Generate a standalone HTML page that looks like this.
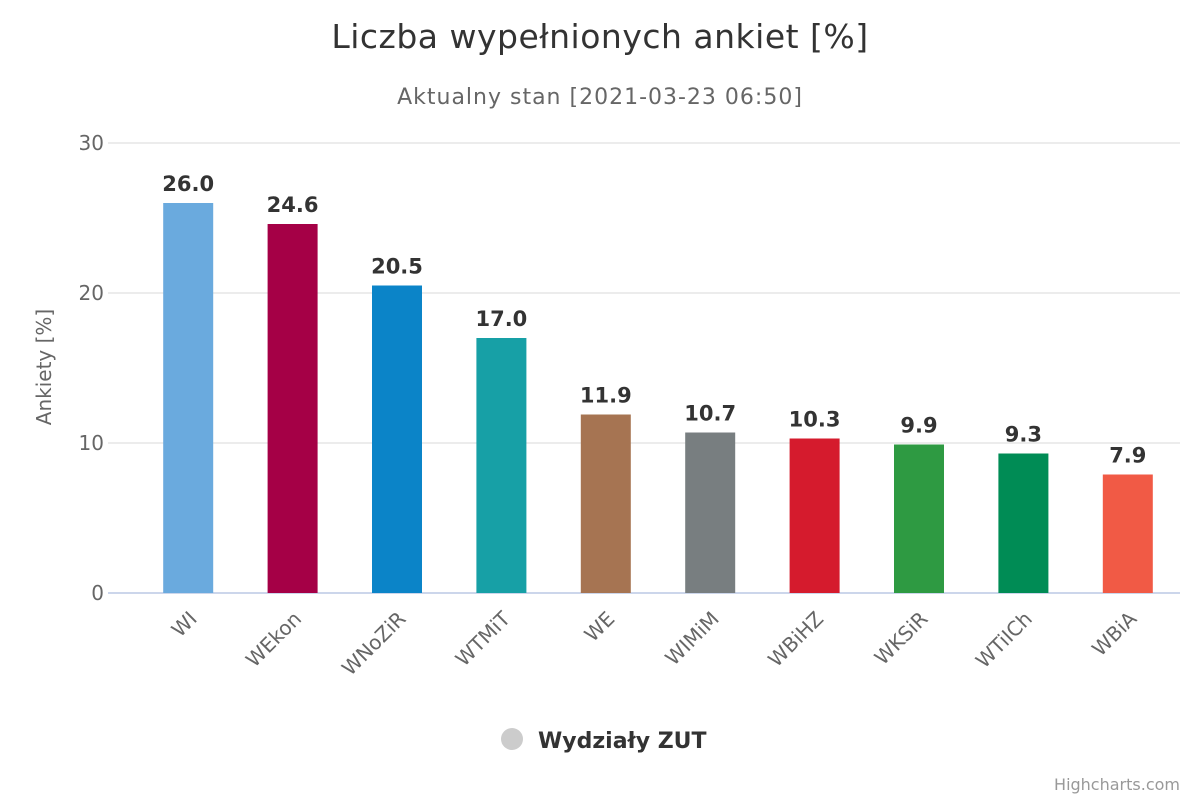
<!DOCTYPE html>
<html><head><meta charset="utf-8"><style>
body{margin:0;background:#fff;font-family:"DejaVu Sans","Liberation Sans",sans-serif}
</style></head><body>
<svg id="c" width="1200" height="800" xmlns="http://www.w3.org/2000/svg" style="font-family:'DejaVu Sans','Liberation Sans',sans-serif">
<rect width="1200" height="800" fill="#fff"/>
<text x="600" y="48" text-anchor="middle" font-size="33" letter-spacing="0.5" fill="#333">Liczba wypełnionych ankiet [%]</text>
<text x="600" y="104" text-anchor="middle" font-size="22" letter-spacing="1" fill="#666">Aktualny stan [2021-03-23 06:50]</text>
<text transform="translate(51,367) rotate(-90)" text-anchor="middle" font-size="20" fill="#666">Ankiety [%]</text>
<g id="grid"></g><g id="bars"></g>
<g>
<circle cx="512" cy="739" r="11" fill="#ccc"/>
<text x="538" y="748" font-size="22" font-weight="bold" fill="#333">Wydziały ZUT</text>
</g>
<text x="1180" y="790" text-anchor="end" font-size="16" fill="#999">Highcharts.com</text>
</svg>
<script>
const categories=["WI","WEkon","WNoZiR","WTMiT","WE","WIMiM","WBiHZ","WKSiR","WTiICh","WBiA"];
const values=[26.0,24.6,20.5,17.0,11.9,10.7,10.3,9.9,9.3,7.9];
const colors=["#6aaade","#a50046","#0b84c8","#17a0a6","#a67452","#787e80","#d51b2d","#2e9a42","#008c55","#f15a45"];
const yTicks=[0,10,20,30];
const NS="http://www.w3.org/2000/svg";
const L=136,R=1180,T=143,B=593,YMAX=30;
const y=v=>B-(v/YMAX)*(B-T);
const cw=(R-L)/categories.length;
const x=i=>L+cw*(i+0.5);
function mk(t,a,p){const e=document.createElementNS(NS,t);for(const k in a)e.setAttribute(k,a[k]);p.appendChild(e);return e;}
const g=document.getElementById('grid'),b=document.getElementById('bars');
yTicks.forEach(t=>{
 const l=mk('line',{x1:L-28,x2:R,y1:y(t),y2:y(t),stroke:t===0?'#ccd6eb':'#e6e6e6','stroke-width':t===0?2:1.5},g);
 
 
 const tx=mk('text',{x:104,y:y(t)+7,'text-anchor':'end','font-size':20,fill:'#666'},g);
 tx.textContent=t;
 
 
});
categories.forEach((c,i)=>{
 const r=mk('rect',{x:x(i)-25,y:y(values[i]),width:50,height:B-y(values[i]),fill:colors[i]},b);
 
 
 const v=mk('text',{x:x(i),y:y(values[i])-12,'text-anchor':'middle','font-size':21,'font-weight':'bold',fill:'#333'},b);
 v.textContent=values[i].toFixed(1);
 
 
 const t=mk('text',{transform:`translate(${x(i)+10},${620}) rotate(-45)`,'text-anchor':'end','font-size':20,fill:'#666'},b);
 t.textContent=c;
 
 
});
</script>
</body></html>
